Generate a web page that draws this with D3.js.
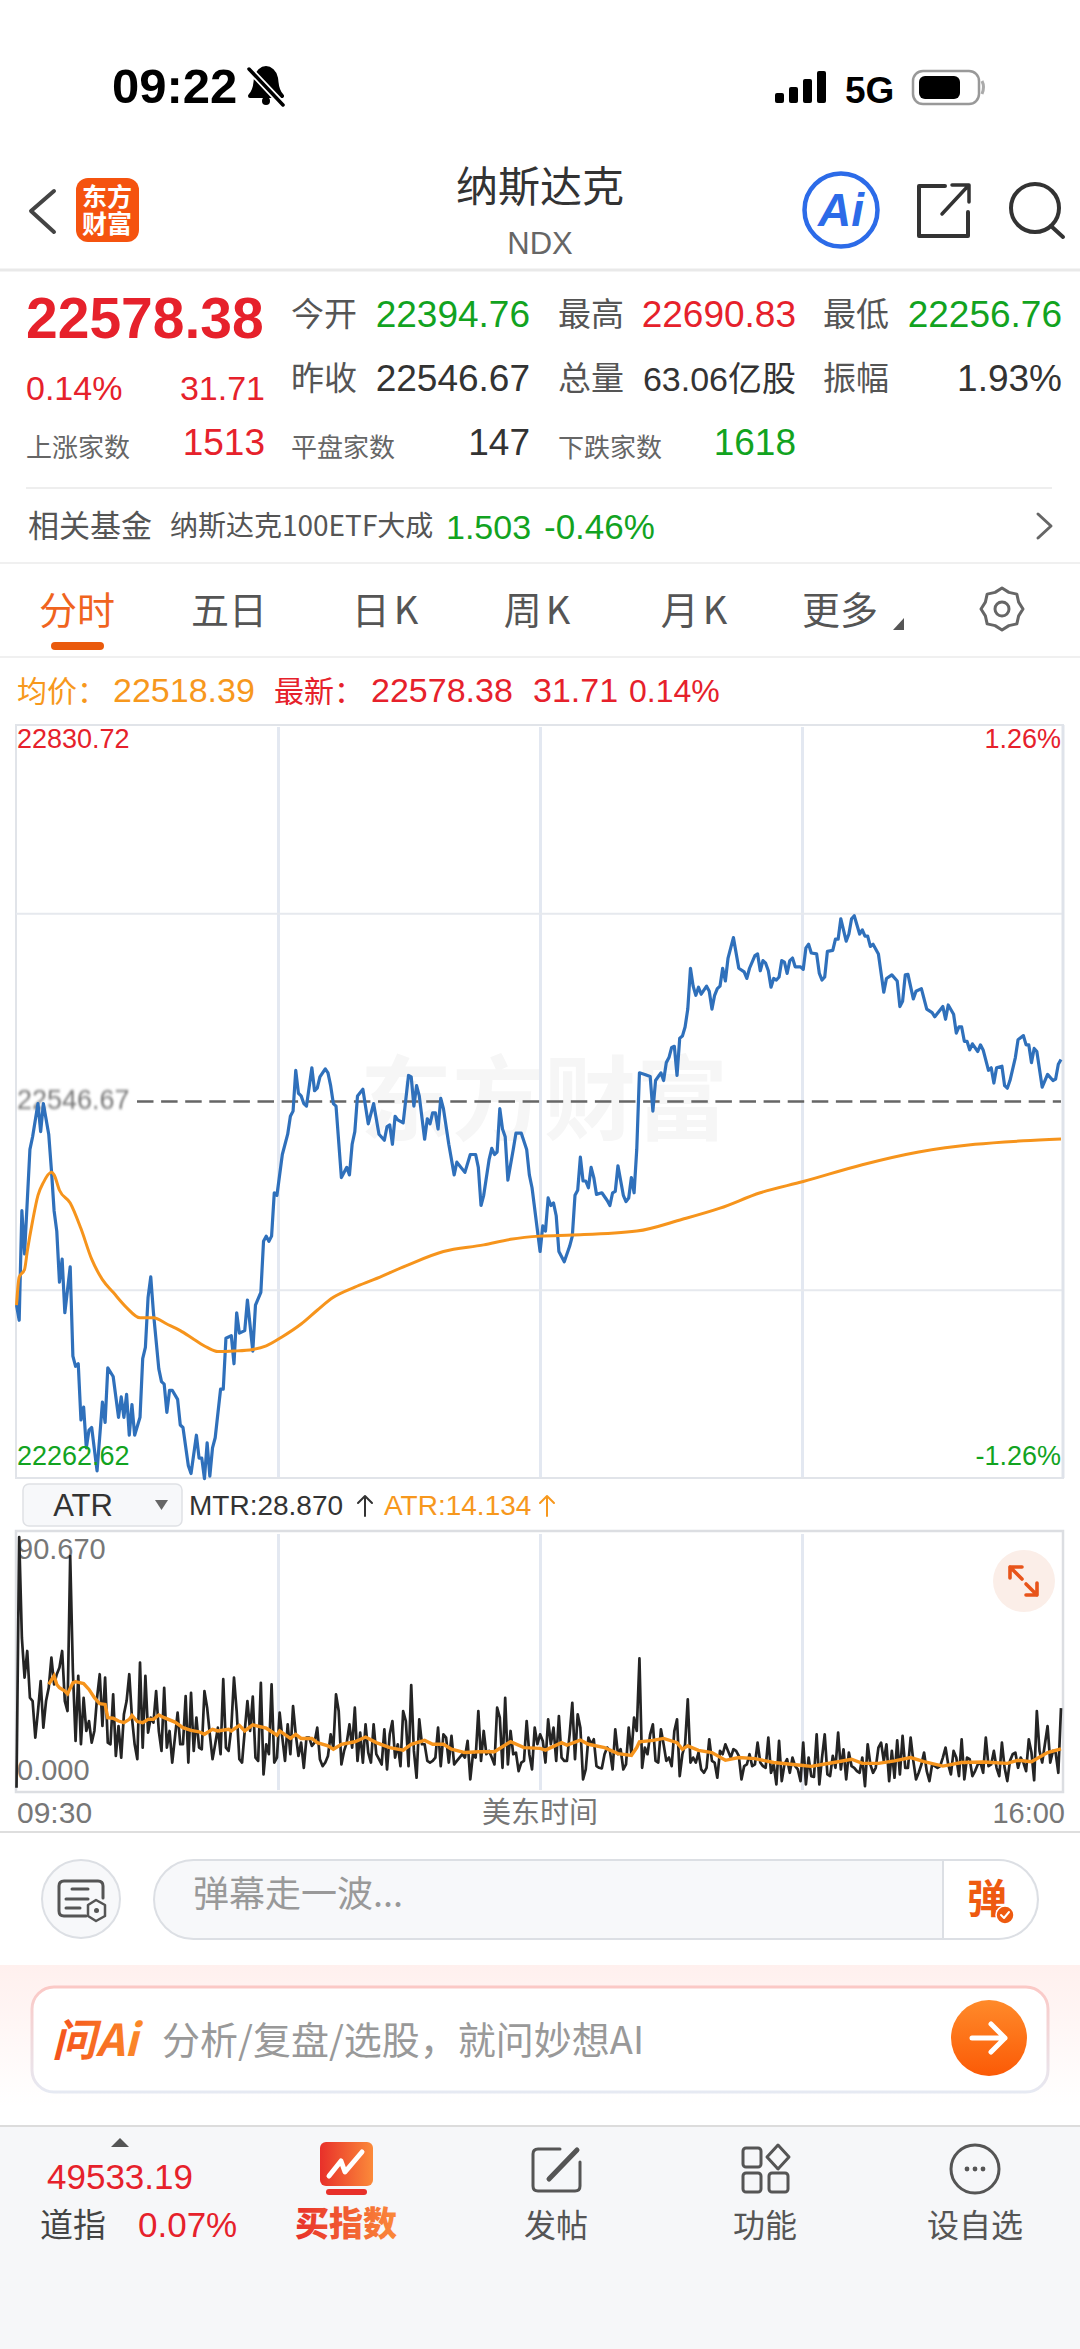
<!DOCTYPE html>
<html>
<head>
<meta charset="utf-8">
<title>NDX</title>
<script src="https://cdn.jsdelivr.net/npm/d3@7"></script>
<style>
  html, body { margin: 0; padding: 0; background: #fff; }
  svg { display: block; }
  text { font-family: "Liberation Sans", "Noto Sans CJK SC", sans-serif; }
  .cjk { font-family: "Noto Sans CJK SC", sans-serif; }
</style>
</head>
<body>
<svg id="page" width="1080" height="2349"></svg>
<script>
const prevClose = 22546.67;
const priceRange = [22262.62, 22830.72];
const priceGridLevels = [22688.7, 22404.6];
const indicatorRange = [0, 90.67];

// minute of session, index value
const pricePoints = [
  [0,22393.1],[1,22381.6],[2,22464.3],[3,22431.6],[5,22510.5],[6,22520.1],[8,22545.1],[9,22524],[10,22545.1],[12,22522],
  [13,22495.1],[14,22464.3],[15,22448.9],[16,22410.4],[17,22427.7],[18,22387.3],[20,22422],[21,22354.6],[22,22346.9],[23,22348.8],
  [24,22306.5],[25,22316.1],[26,22285.3],[27,22298.8],[28,22300.7],[30,22268],[32,22319.9],[33,22304.5],[34,22345.7],[36,22339.2],
  [38,22308.4],[39,22323.8],[40,22308.4],[41,22325.7],[42,22294.9],[43,22318],[44,22294.9],[46,22308.4],[47,22352.7],[48,22361.1],
  [49,22398.9],[50,22414.3],[51,22387.3],[53,22345],[54,22335.3],[55,22333.4],[56,22312.2],[57,22328.8],[58,22328.8],[60,22321.9],
  [61,22302.6],[62,22300.7],[64,22271.8],[65,22266],[67,22294.9],[68,22277.6],[69,22277.6],[70,22262.2],[71,22289.1],[72,22264.1],
  [73,22285.3],[74,22293],[76,22329.6],[77,22329.6],[78,22368.1],[80,22370],[81,22348.8],[82,22387.3],[83,22371.9],[85,22373.8],
  [86,22396.9],[88,22358.4],[89,22393.1],[91,22402.7],[92,22441.2],[93,22445.1],[94,22441.2],[95,22445.1],[96,22477.8],[97,22475.9],
  [99,22506.7],[101,22522],[102,22535.5],[103,22539.4],[104,22570.2],[105,22552.9],[106,22550.9],[107,22545.1],[108,22543.2],[110,22572.1],
  [111,22554.8],[112,22556.7],[113,22565.2],[115,22571.3],[116,22568.3],[117,22558.6],[118,22545.1],[119,22543.2],[121,22489.3],[123,22497],
  [124,22491.3],[125,22514.4],[126,22524],[127,22550.9],[129,22555.9],[131,22529.8],[133,22545.1],[135,22522],[137,22517.4],[138,22527.8],
  [139,22529],[140,22514.4],[141,22535.5],[142,22532.8],[144,22530.5],[146,22566.3],[147,22565.2],[148,22543.2],[149,22558.6],[150,22550.9],
  [152,22518.2],[153,22533.6],[154,22529.8],[155,22538.2],[156,22538.2],[157,22525.9],[158,22549],[159,22541.3],[161,22514.4],[163,22491.3],
  [164,22500.9],[167,22493.2],[169,22506.7],[171,22506.7],[172,22497],[173,22468.2],[174,22475.9],[176,22502.8],[177,22511.3],[178,22506.7],
  [179,22508.6],[180,22541.3],[181,22525.9],[182,22520.1],[183,22487.4],[185,22510.5],[186,22522.8],[188,22522.8],[190,22510.5],[191,22491.3],
  [192,22481.6],[195,22433.5],[196,22452.8],[197,22448.9],[198,22473.9],[199,22468.2],[200,22470.1],[201,22460.5],[202,22433.5],[204,22425.8],
  [206,22437.4],[207,22445.1],[208,22475.9],[209,22479.7],[210,22504.7],[211,22486.7],[212,22486.7],[213,22481.6],[214,22497],[215,22489.3],
  [216,22476.6],[218,22477.8],[220,22472],[221,22468.2],[222,22477.8],[223,22478.9],[224,22498.2],[226,22475.9],[227,22471.2],[228,22473.9],
  [229,22489.3],[230,22477.8],[231,22510.5],[232,22568.3],[234,22567.1],[236,22565.6],[237,22539.4],[238,22562.5],[240,22568.3],[241,22562.5],
  [242,22576],[243,22579.8],[244,22587.5],[245,22588.3],[246,22566.3],[247,22594.4],[248,22596],[249,22602.9],[250,22616.4],[251,22647.2],
  [252,22633.7],[253,22626.8],[254,22632.9],[255,22627.6],[257,22633.7],[258,22629.9],[259,22616.4],[260,22626.8],[261,22631.8],[262,22633.7],
  [263,22647.2],[264,22637.6],[265,22654.9],[267,22670.3],[269,22647.2],[271,22644.5],[272,22639.5],[273,22647.2],[275,22656.8],[276,22658],
  [277,22645.3],[278,22653],[279,22651],[280,22645.3],[281,22632.9],[282,22639.5],[283,22638.3],[284,22640.6],[285,22653],[286,22651.8],
  [287,22643.3],[288,22653],[289,22654.9],[290,22648.3],[292,22648.3],[293,22646.4],[294,22662.6],[295,22665.3],[296,22658.7],[298,22658],
  [299,22643.3],[300,22638.3],[301,22640.6],[302,22659.9],[304,22660.7],[305,22669.1],[306,22669.1],[307,22684.5],[309,22667.6],[310,22673],
  [311,22684.5],[312,22686.8],[314,22673],[315,22676.1],[316,22671.4],[317,22671.4],[318,22663.7],[319,22665.3],[321,22658],[323,22629.1],
  [324,22639.5],[326,22642.2],[328,22637.6],[329,22618.3],[330,22622.2],[331,22642.2],[332,22642.6],[334,22624.1],[335,22629.9],[337,22631.8],
  [339,22616.4],[341,22613.7],[342,22610.6],[345,22618.3],[346,22608.7],[347,22619.5],[349,22612.5],[350,22598.3],[351,22602.9],[352,22602.9],
  [353,22592.1],[354,22592.1],[355,22585.6],[356,22590.2],[358,22584.4],[359,22589.4],[360,22585.6],[362,22570.2],[363,22572.1],[364,22560.6],
  [365,22572.1],[367,22573.3],[368,22558.6],[369,22556.7],[370,22562.5],[372,22579.8],[373,22593.3],[375,22596.4],[376,22589.4],[377,22589.4],
  [378,22576],[379,22586.7],[380,22584.4],[382,22557.5],[384,22567.1],[386,22562.5],[387,22563.6],[388,22574.8],[389,22578.38]
];

const avgPoints = [
  [0,22393.1],[1,22414.3],[3,22420],[4,22433.5],[6,22456.6],[8,22475.9],[10,22485.5],[13,22493.2],[14,22491.3],[16,22479.7],
  [20,22470.1],[24,22450.8],[28,22427.7],[32,22412.3],[36,22402.7],[41,22391.2],[46,22383.5],[51,22383.5],[56,22378.8],[61,22373.8],
  [66,22367.3],[71,22361.1],[75,22358],[81,22358.4],[88,22359.6],[93,22362.3],[99,22369.2],[106,22378.8],[112,22389.2],[118,22398.9],
  [126,22406.6],[133,22412.3],[145,22422.7],[159,22433.5],[174,22438.5],[184,22442.7],[195,22445.1],[207,22445.9],[231,22448.9],[248,22457.8],
  [262,22466.2],[277,22477.8],[293,22486.3],[315,22499],[336,22508.6],[357,22514.4],[375,22517],[389,22518.39]
];

// MTR, one value per minute
const mtrValues = [
  0.1,90.67,54.3,39.9,49.5,32.6,31.4,18.2,27.8,38.6,
  21.8,31.4,36.2,47.1,37.4,41.1,43.5,49.5,31.4,27.8,
  83.8,42.3,17,40.5,15.8,32.6,20.6,24.2,16.4,20.6,
  32.6,41.1,22.4,39.9,16.4,15.8,33.8,11.6,22.4,11,
  26.6,31.4,41.1,25.4,15.8,10.4,45.3,14.6,40.5,20,
  25.4,23.6,35,20.6,13.4,36.2,14.6,20.6,9.2,18.2,
  27.2,15.8,15.8,33.2,9.2,34.4,13.4,25.4,14.6,14,
  35,29,19.4,10.4,15.8,21.8,12.2,39.3,14.6,13.4,
  21.8,39.9,27.8,10.4,9.2,20.6,31.4,20.6,33,11,
  9.8,38,4.9,15.8,12.2,37.4,9.2,
  11,27.2,18.2,9.8,23,12.2,29.6,19.4,11.6,16.4,7.3,
  18.2,18.2,15.2,16.4,21.8,10.4,7.9,9.2,11.6,19.4,
  14.6,33.8,27.8,8.5,13.4,16.4,23,14.6,29,9.8,
  20,9.2,23,12.8,9.2,23,12.2,10.4,8.5,21.2,
  6.7,19.4,24.2,11,15.8,7.9,27.8,24.2,7.9,37.2,
  13.4,3.7,24.8,15.8,15.8,9.8,9.2,9.8,11,21.8,
  7.9,19.4,18.2,9.2,18.8,8.5,9.8,11,12.2,11,
  17,3.1,12.2,11,27.8,9.8,20.6,12.2,13.4,11,
  8.5,29,25.4,7.3,32.6,8.5,20.6,12.2,12.8,6.1,
  9.2,9.8,24.2,12.2,6.7,21.8,15.8,
  19.4,17,9.2,24.8,15.8,21.8,9.8,26,11,9.8,
  9.8,19.4,30.8,10.4,26.6,21.8,3.1,6.7,18.2,15.8,
  17.6,7.9,7.3,7.1,12.2,14.6,13.4,6.7,21.2,12.2,
  14,6.7,8.5,21.8,12.2,25.4,20.6,46.8,7.3,14.6,
  12.2,19.4,23,9.8,9.2,21.2,15.8,9.8,11,7.9,
  20.6,24.8,4.3,12.2,15.8,32,9.2,11,9.2,12.8,
  6.7,5.5,7.3,17.6,9.8,9.2,3.7,13.4,12.2,15.8,
  13.4,11,14,13.4,11.6,3.1,7.9,8.5,12.2,7.9,
  8.5,16.4,9.2,7.9,7.3,18.2,5.5,8.5,1.3,17,
  2.5,8.5,10.4,5.5,11,7.9,6.7,2.5,
  16.4,1.3,11,4.3,4,19.4,1.3,11,19.4,4.9,
  4.3,11.6,7.3,20,6.7,14,3.1,12.8,7.9,7.3,
  6.1,5.5,11,0.7,15.8,8.5,5.5,7.3,14.6,16.4,
  9.8,15.8,2.5,13.4,3.7,17.2,4.9,18.8,7.3,7.3,
  18.2,9.8,3.1,5.5,8.5,12.8,6.1,2.5,8.5,7.9,
  7.3,7.9,11,14.6,8.5,4.9,13.4,11,4.3,17.6,
  3.1,11,10.4,4.3,6.1,8.5,9.2,5.5,18.2,7.9,
  8.5,13.4,7.3,4.3,16.4,7.3,2.5,9.8,12.2,12.8,
  7.3,11,9.2,6.1,17.6,12.8,2.8,27.8,13.4,9.2,
  15.8,22.4,9.2,13.4,12.8,5.5,28.87
];

const atrPoints = [
  [12,37.4],[14,40.5],[15,37.4],[16,36.2],[18,35],[19,34],[21,38],[22,38.4],[25,37.7],[27,35.6],
  [29,32.6],[31,30.5],[33,30.2],[34,25.4],[36,25.2],[38,24.2],[40,23.6],[42,24.8],[43,26.2],[45,24],
  [47,23.6],[49,24.8],[51,24.8],[53,26.4],[55,25.4],[59,23.8],[62,21.8],[65,20.8],[68,20.3],[70,19.4],
  [73,21.2],[75,20.6],[79,21.2],[80,20.6],[83,22.6],[85,20.6],[88,22.8],[93,21.6],[97,19.1],[98,20.6],
  [102,17.9],[104,19.4],[106,17.9],[110,17.9],[112,16.4],[116,15.2],[118,14],[121,15.8],[126,16.7],[130,18.4],
  [134,16.4],[139,14.6],[144,13.7],[147,15.8],[152,17.2],[155,15.8],[159,15.8],[162,14],[167,12.8],[172,13.1],
  [178,13.1],[184,16.7],[189,14.6],[195,14.3],[197,13.7],[203,16.4],[205,15.5],[210,17.3],[213,15.8],[219,14.6],
  [224,12.4],[229,11.8],[231,14.6],[232,16.7],[237,17.2],[241,17.9],[246,16.4],[248,14],[250,15.2],[254,13.6],
  [259,12.8],[264,10],[269,11],[275,10.6],[282,9.2],[292,8.2],[296,7.8],[300,8.5],[306,9.5],[311,10.4],
  [315,8.9],[321,8.9],[327,9.8],[333,11],[338,9.5],[345,7.9],[352,9.2],[360,9.4],[369,8.9],[373,10],
  [378,9.5],[384,12.8],[389,14.134]
];

const quoteRows = [
  { label: "今开", value: "22394.76", color: "green", size: 37 }, { label: "最高", value: "22690.83", color: "red", size: 37 }, { label: "最低", value: "22256.76", color: "green", size: 37 },
  { label: "昨收", value: "22546.67", color: "dark", size: 37 }, { label: "总量", value: "63.06亿股", color: "dark", size: 34 }, { label: "振幅", value: "1.93%", color: "dark", size: 37 }
];
const breadthLabels = ["上涨家数", "平盘家数", "下跌家数"];
const breadthValues = ["1513", "147", "1618"];
const tabLabels = ["分时", "五日", "日K", "周K", "月K", "更多"];
const bottomLabels = ["发帖", "功能", "设自选"];

const RED = "#e6212b", GREEN = "#12a31f", DARK = "#333";
const colorOf = { red: RED, green: GREEN, dark: DARK };
const svg = d3.select("#page");

function txt(x, y, s, size, fill, opts) {
  opts = opts || {};
  return svg.append("text")
    .attr("x", x).attr("y", y)
    .attr("font-size", size)
    .attr("fill", fill)
    .attr("text-anchor", opts.anchor || "start")
    .attr("font-weight", opts.weight || "normal")
    .attr("font-style", opts.style || "normal")
    .attr("class", opts.cjk ? "cjk" : null)
    .text(s);
}
function icon(d, stroke, width) {
  return svg.append("path").attr("d", d).attr("fill", "none")
    .attr("stroke", stroke).attr("stroke-width", width)
    .attr("stroke-linecap", "round").attr("stroke-linejoin", "round");
}
function hline(y, x1, x2, color, w) {
  svg.append("line").attr("x1", x1).attr("x2", x2).attr("y1", y).attr("y2", y)
    .attr("stroke", color).attr("stroke-width", w);
}

// gradients
const defs = svg.append("defs");
function gradient(id, x2, y2, stops) {
  const g = defs.append("linearGradient").attr("id", id)
    .attr("x1", 0).attr("y1", 0).attr("x2", x2).attr("y2", y2);
  stops.forEach((c, i) => g.append("stop").attr("offset", i / (stops.length - 1)).attr("stop-color", c));
}
gradient("bandGrad", 0, 1, ["#fff0ee", "#ffffff"]);
gradient("cardStroke", 0, 1, ["#fbc9c6", "#e6e9f2"]);
gradient("btnGrad", 0, 1, ["#ff8a2a", "#fb5a06"]);
gradient("logoAi", 1, 0, ["#f4501c", "#fb8b2a"]);
gradient("buyGrad", 1, 0, ["#e8302a", "#fb8a3a"]);
defs.append("filter").attr("id", "smear").append("feGaussianBlur").attr("stdDeviation", "1 1.6");

// ---- status bar ----
txt(112, 103, "09:22", 49, "#000", { weight: 700 });
icon("M250 96 C256 90 255 84 256 78 C257 72 262 68 266 68 C270 68 275 72 276 78 C277 84 276 90 282 96 Z", "#000", 4).attr("fill", "#000");
svg.append("circle").attr("cx", 266).attr("cy", 101).attr("r", 4).attr("fill", "#000");
icon("M250 70 L284 106", "#fff", 7);
icon("M249 69 L283 105", "#000", 3.5);
const signalBars = [10, 16, 24, 32];
signalBars.forEach((h, i) => {
  svg.append("rect").attr("x", 775 + i * 14).attr("y", 103 - h).attr("width", 9).attr("height", h).attr("rx", 2).attr("fill", "#000");
});
txt(845, 103, "5G", 37, "#000", { weight: 700 });
svg.append("rect").attr("x", 913).attr("y", 71).attr("width", 66).attr("height", 33).attr("rx", 10)
  .attr("fill", "none").attr("stroke", "#999").attr("stroke-width", 2.5);
svg.append("rect").attr("x", 919).attr("y", 76).attr("width", 41).attr("height", 23).attr("rx", 6).attr("fill", "#000");
svg.append("path").attr("d", "M982 81 Q985 87 982 94").attr("fill", "none").attr("stroke", "#aaa").attr("stroke-width", 3);

// ---- header ----
icon("M54 191 L31 211 L54 232", "#444", 4);
svg.append("rect").attr("x", 76).attr("y", 178).attr("width", 63).attr("height", 64).attr("rx", 12).attr("fill", "#f5530f");
txt(107, 206, "东方", 25, "#fff", { anchor: "middle", weight: 700, cjk: true });
txt(107, 233, "财富", 25, "#fff", { anchor: "middle", weight: 700, cjk: true });
txt(540, 202, "纳斯达克", 42, "#333", { anchor: "middle", cjk: true });
txt(540, 254, "NDX", 31, "#666", { anchor: "middle" });
svg.append("circle").attr("cx", 841).attr("cy", 210).attr("r", 36.5).attr("fill", "#fff").attr("stroke", "#2c6be8").attr("stroke-width", 4.5);
txt(841, 226, "Ai", 46, "#2c6be8", { anchor: "middle", weight: 700, style: "italic" });
icon("M945 186 L919 186 L919 236 L968 236 L968 212", "#333", 4);
icon("M942 214 L968 186 M952 185 L969 185 L969 202", "#333", 3.5);
svg.append("circle").attr("cx", 1035).attr("cy", 208).attr("r", 24).attr("fill", "none").attr("stroke", "#333").attr("stroke-width", 4);
icon("M1051 226 L1063 237", "#333", 4);
hline(270, 0, 1080, "#e9e9e9", 3);

// ---- quote block ----
txt(26, 338, "22578.38", 57, RED, { weight: 700 });
txt(26, 400, "0.14%", 34, RED);
txt(265, 400, "31.71", 34, RED, { anchor: "end" });
const labelX = [291, 558, 823], valueEnd = [530, 796, 1062], rowY = [327, 391];
quoteRows.forEach((d, i) => {
  const col = i % 3, row = Math.floor(i / 3);
  txt(labelX[col], rowY[row] - 1, d.label, 33, "#555", { cjk: true });
  txt(valueEnd[col], rowY[row], d.value, d.size, colorOf[d.color], { anchor: "end" });
});
const breadthLabelX = [26, 291, 558], breadthEnd = [265, 530, 796], breadthColor = [RED, DARK, GREEN];
breadthLabels.forEach((s, i) => {
  txt(breadthLabelX[i], 457, s, 26, "#666", { cjk: true });
  txt(breadthEnd[i], 455, breadthValues[i], 37, breadthColor[i], { anchor: "end" });
});
hline(488, 26, 1052, "#eee", 2);
txt(28, 537, "相关基金", 31, "#555", { cjk: true });
txt(170, 536, "纳斯达克100ETF大成", 28, "#555", { cjk: true });
txt(446, 539, "1.503", 34, GREEN);
txt(544, 539, "-0.46%", 35, GREEN);
icon("M1038 514 L1051 526 L1038 538", "#666", 3);
hline(563, 0, 1080, "#f0f0f0", 2);

// ---- tabs ----
const tabCenter = [77, 229, 387, 539, 696, 840];
tabLabels.forEach((s, i) => {
  txt(tabCenter[i], 624, s, 38, i === 0 ? "#f0641e" : "#555", { anchor: "middle", cjk: true })
    .attr("letter-spacing", i >= 2 && i <= 4 ? 4 : 0);
});
svg.append("path").attr("d", "M893 630 L904 630 L904 618 Z").attr("fill", "#555");
svg.append("path").attr("d", d3.range(8).map(k => {
  const a = k * Math.PI / 4, a2 = a + Math.PI / 8;
  return (k ? "L" : "M") + (1002 + 21 * Math.cos(a)) + " " + (609 + 21 * Math.sin(a)) + " L" + (1002 + 18 * Math.cos(a2)) + " " + (609 + 18 * Math.sin(a2));
}).join(" ") + " Z").attr("fill", "none").attr("stroke", "#666").attr("stroke-width", 3).attr("stroke-linejoin", "round");
svg.append("circle").attr("cx", 1002).attr("cy", 609).attr("r", 7).attr("fill", "none").attr("stroke", "#666").attr("stroke-width", 3);
svg.append("rect").attr("x", 51).attr("y", 642).attr("width", 53).attr("height", 8).attr("rx", 4).attr("fill", "#ea5a0c");
hline(657, 0, 1080, "#f0f0f0", 2);

// ---- legend ----
const AVG = "#f7981d";
txt(17, 702, "均价：", 30, AVG, { cjk: true });
txt(113, 702, "22518.39", 34, AVG);
txt(274, 702, "最新：", 30, RED, { cjk: true });
txt(371, 702, "22578.38", 34, RED);
txt(533, 702, "31.71", 34, RED);
txt(629, 702, "0.14%", 32, RED);

// ---- scales ----
const x = d3.scaleLinear().domain([0, 389]).range([16.5, 1061]);
const quarter = d3.scaleLinear().domain([0, 4]).range([16, 1064]);
const yPrice = d3.scaleLinear().domain(priceRange).range([1478, 725]);
const yInd = d3.scaleLinear().domain(indicatorRange).range([1788, 1537]);

// ---- price panel ----
svg.append("rect").attr("x", 16).attr("y", 725).attr("width", 1047).attr("height", 753)
  .attr("fill", "#fff").attr("stroke", "#e1e4e9").attr("stroke-width", 2);
txt(544, 1133, "东方财富", 92, "#f6f6f6", { anchor: "middle", weight: 700, cjk: true });

const vGrid = d3.axisBottom(quarter).tickValues([1, 2, 3]).tickSize(-750).tickFormat("");
svg.append("g").attr("transform", "translate(0,1477)").call(vGrid)
  .call(g => g.select(".domain").remove())
  .selectAll("line").attr("stroke", "#e3e8f1").attr("stroke-width", 3);
const hGrid = d3.axisLeft(yPrice).tickValues(priceGridLevels).tickSize(-1047).tickFormat("");
svg.append("g").attr("transform", "translate(16,0)").call(hGrid)
  .call(g => g.select(".domain").remove())
  .selectAll("line").attr("stroke", "#e6e9ee").attr("stroke-width", 2);
svg.append("line").attr("x1", 1063).attr("x2", 1063).attr("y1", 725).attr("y2", 1478).attr("stroke", "#dfe3ea").attr("stroke-width", 3);

svg.append("text").attr("x", 17).attr("y", 1109).attr("font-size", 27).attr("fill", "#777")
  .attr("filter", "url(#smear)").text("22546.67");
svg.append("line").attr("x1", 137).attr("x2", 1061).attr("y1", yPrice(prevClose)).attr("y2", yPrice(prevClose))
  .attr("stroke", "#666").attr("stroke-width", 2.6).attr("stroke-dasharray", "16.5 7.6");

const line = d3.line().x(d => x(d[0])).y(d => yPrice(d[1]));
svg.append("path").datum(pricePoints).attr("d", line).attr("fill", "none")
  .attr("stroke", "#2f70bb").attr("stroke-width", 3.2).attr("stroke-linejoin", "round");
svg.append("path").datum(avgPoints).attr("d", line.curve(d3.curveMonotoneX)).attr("fill", "none")
  .attr("stroke", "#f6941c").attr("stroke-width", 3);

txt(17, 748, d3.format(".2f")(priceRange[1]), 27, RED);
txt(17, 1465, d3.format(".2f")(priceRange[0]), 27, GREEN);
txt(1061, 748, "1.26%", 27, RED, { anchor: "end" });
txt(1061, 1465, "-1.26%", 27, GREEN, { anchor: "end" });

// ---- indicator header ----
svg.append("rect").attr("x", 23).attr("y", 1484).attr("width", 159).attr("height", 42).attr("rx", 6)
  .attr("fill", "#f7f8fa").attr("stroke", "#dfe1e5").attr("stroke-width", 1.5);
txt(83, 1516, "ATR", 31, "#333", { anchor: "middle" });
svg.append("path").attr("d", "M155 1500 L168 1500 L161.5 1510 Z").attr("fill", "#666");
txt(189, 1515, "MTR:28.870", 28, DARK);
icon("M365 1516 L365 1496 M358 1503 L365 1496 L372 1503", DARK, 2);
txt(384, 1515, "ATR:14.134", 28, AVG);
icon("M547 1516 L547 1496 M540 1503 L547 1496 L554 1503", AVG, 2);

// ---- indicator panel ----
svg.append("rect").attr("x", 16).attr("y", 1531).attr("width", 1047).attr("height", 261)
  .attr("fill", "#fff").attr("stroke", "#dcdee2").attr("stroke-width", 2.5);
const vGrid2 = d3.axisBottom(quarter).tickValues([1, 2, 3]).tickSize(-256).tickFormat("");
svg.append("g").attr("transform", "translate(0,1790)").call(vGrid2)
  .call(g => g.select(".domain").remove())
  .selectAll("line").attr("stroke", "#e3e8f1").attr("stroke-width", 3);
txt(17, 1559, d3.format(".3f")(indicatorRange[1]), 29, "#777");
txt(17, 1780, d3.format(".3f")(indicatorRange[0]), 29, "#777");
svg.append("path").datum(mtrValues).attr("fill", "none").attr("stroke", "#242424").attr("stroke-width", 2.7)
  .attr("stroke-linejoin", "round")
  .attr("d", d3.line().x((d, i) => x(i)).y(d => yInd(d)));
svg.append("path").datum(atrPoints).attr("fill", "none").attr("stroke", "#f6941c").attr("stroke-width", 3.4)
  .attr("d", d3.line().x(d => x(d[0])).y(d => yInd(d[1])));

svg.append("circle").attr("cx", 1024).attr("cy", 1581).attr("r", 31).attr("fill", "#fbeee8");
icon("M1010 1578 L1010 1567 L1022 1567 M1010 1567 L1022 1579", "#e8541a", 3.6);
icon("M1037 1583 L1037 1595 L1026 1595 M1037 1595 L1026 1584", "#e8541a", 3.6);

txt(17, 1823, "09:30", 30, "#777");
txt(540, 1823, "美东时间", 29, "#777", { anchor: "middle", cjk: true });
txt(1065, 1823, "16:00", 29, "#777", { anchor: "end" });
hline(1832, 0, 1080, "#dedede", 2);

// ---- danmu row ----
svg.append("circle").attr("cx", 81).attr("cy", 1899).attr("r", 39).attr("fill", "#f7f8fa").attr("stroke", "#dcdfe4").attr("stroke-width", 2);
icon("M86 1916 L64 1916 Q59 1916 59 1911 L59 1886 Q59 1881 64 1881 L98 1881 Q103 1881 103 1886 L103 1898", "#555", 3);
icon("M72 1889 L88 1889 M66 1899 L88 1899 M66 1908 L80 1908", "#555", 3);
icon("M96 1900 L105 1905 L105 1916 L96 1921 L88 1916 L88 1905 Z", "#555", 2.5);
svg.append("circle").attr("cx", 96.5).attr("cy", 1910.5).attr("r", 2.5).attr("fill", "#555");
svg.append("rect").attr("x", 154).attr("y", 1860).attr("width", 884).attr("height", 79).attr("rx", 39.5)
  .attr("fill", "#f7f8fa").attr("stroke", "#dcdfe4").attr("stroke-width", 2);
svg.append("path").attr("d", "M944 1861 L998 1861 A38.5 38.5 0 0 1 998 1938 L944 1938 Z").attr("fill", "#fff");
svg.append("line").attr("x1", 943).attr("x2", 943).attr("y1", 1860).attr("y2", 1939).attr("stroke", "#dcdfe4").attr("stroke-width", 2);
txt(193, 1907, "弹幕走一波...", 36, "#999", { cjk: true });
txt(967, 1913, "弹", 40, "#ee5a10", { weight: 700, cjk: true });
svg.append("circle").attr("cx", 1005).attr("cy", 1915).attr("r", 9).attr("fill", "#ee5a10").attr("stroke", "#fff").attr("stroke-width", 1.5);
icon("M1001 1915 L1004 1918 L1009 1912", "#fff", 2);

// ---- ask AI card ----
svg.append("rect").attr("x", 0).attr("y", 1965).attr("width", 1080).attr("height", 142).attr("fill", "url(#bandGrad)");
svg.append("rect").attr("x", 32).attr("y", 1987).attr("width", 1016).attr("height", 105).attr("rx", 22)
  .attr("fill", "#fff").attr("stroke", "url(#cardStroke)").attr("stroke-width", 3);
txt(52, 2056, "问Ai", 44, "url(#logoAi)", { weight: 700, style: "italic", cjk: true });
txt(162, 2054, "分析/复盘/选股，就问妙想AI", 38, "#999", { cjk: true });
svg.append("circle").attr("cx", 989).attr("cy", 2038).attr("r", 38).attr("fill", "url(#btnGrad)");
icon("M972 2038 L1005 2038 M991 2024 L1005 2038 L991 2052", "#fff", 5);

// ---- bottom bar ----
svg.append("rect").attr("x", 0).attr("y", 2126).attr("width", 1080).attr("height", 223).attr("fill", "#f6f7f9");
hline(2126, 0, 1080, "#dcdcdc", 2);
svg.append("path").attr("d", "M111 2147 L129 2147 L120 2138 Z").attr("fill", "#555");
txt(120, 2189, "49533.19", 35, RED, { anchor: "middle" });
txt(40, 2237, "道指", 33, "#444", { cjk: true });
txt(138, 2237, "0.07%", 35, RED);

svg.append("rect").attr("x", 320).attr("y", 2142).attr("width", 53).attr("height", 44).attr("rx", 6).attr("fill", "url(#buyGrad)");
svg.append("rect").attr("x", 326).attr("y", 2189).attr("width", 41).attr("height", 6).attr("rx", 3).attr("fill", "#e8302a");
icon("M329 2176 L341 2161 L345 2172 L362 2152", "#fff", 5);
txt(346, 2236, "买指数", 34, "url(#buyGrad)", { anchor: "middle", weight: 900, cjk: true });

icon("M560 2149 L538 2149 Q533 2149 533 2154 L533 2186 Q533 2191 538 2191 L575 2191 Q580 2191 580 2186 L580 2162", "#555", 3);
icon("M549 2179 L577 2150", "#555", 5);
const bottomCenter = [556, 765, 975];
bottomLabels.forEach((s, i) => txt(bottomCenter[i], 2237, s, 32, "#555", { anchor: "middle", cjk: true }));

const fnCells = [[743, 2148, 18, 19], [743, 2173, 18, 19], [769, 2173, 19, 19]];
fnCells.forEach(c => {
  svg.append("rect").attr("x", c[0]).attr("y", c[1]).attr("width", c[2]).attr("height", c[3]).attr("rx", 3)
    .attr("fill", "none").attr("stroke", "#555").attr("stroke-width", 3);
});
icon("M778 2145 L789 2157 L778 2169 L767 2157 Z", "#555", 3);

svg.append("circle").attr("cx", 975).attr("cy", 2169).attr("r", 24).attr("fill", "none").attr("stroke", "#555").attr("stroke-width", 3);
[-8, 0, 8].forEach(dx => svg.append("circle").attr("cx", 975 + dx).attr("cy", 2169).attr("r", 2.4).attr("fill", "#555"));
</script>
</body>
</html>
